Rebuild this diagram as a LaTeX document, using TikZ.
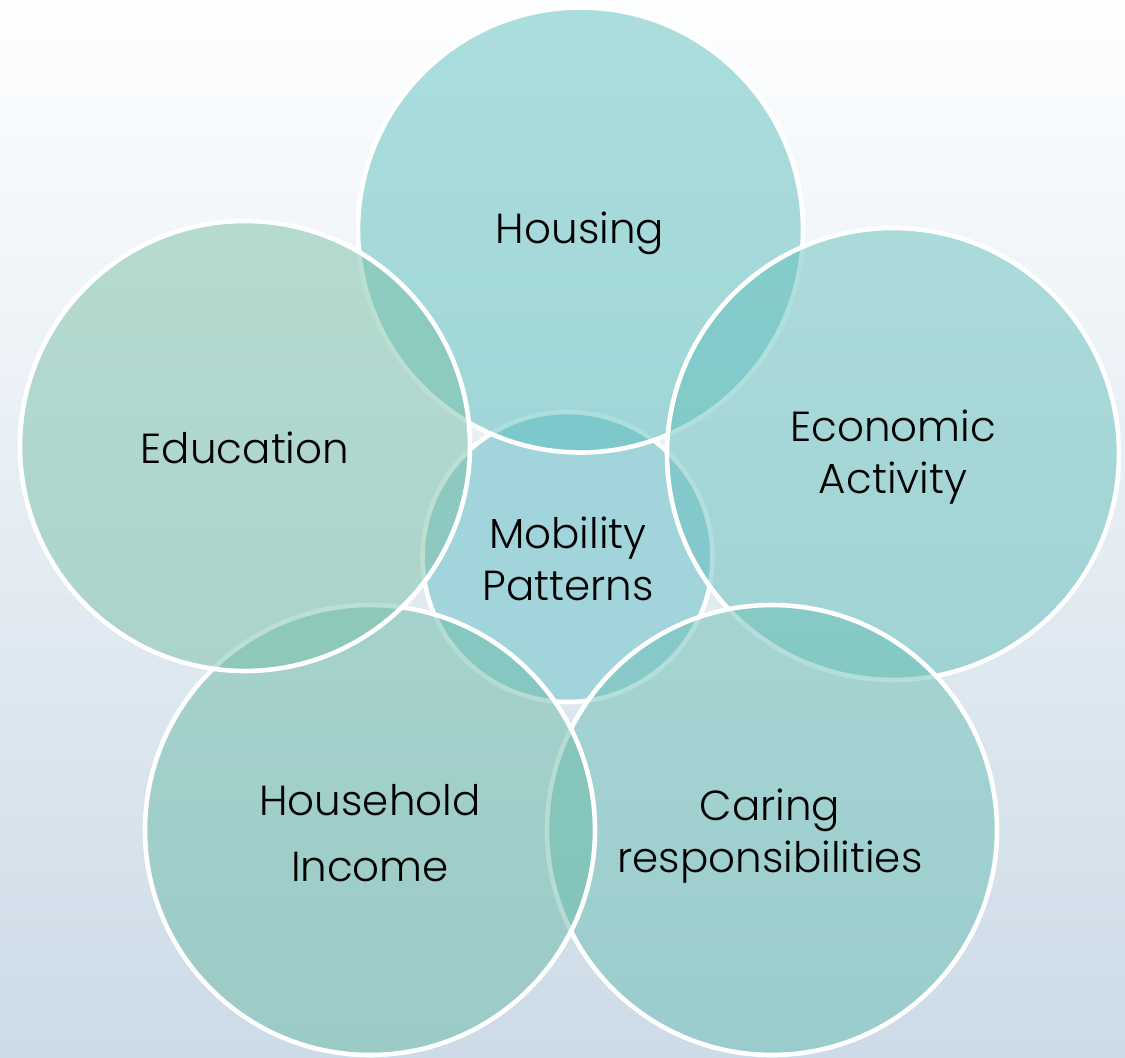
\documentclass[tikz,border=0pt]{standalone}
\usepackage{fontspec}
\setmainfont{Poppins Light}
\definecolor{bgtop}{HTML}{FDFEFF}
\definecolor{bgbot}{HTML}{CCDBE7}
\definecolor{cmid}{HTML}{A2D4DC}
\definecolor{chou}{HTML}{5ABEBC}
\definecolor{ceco}{HTML}{65C0BC}
\definecolor{ccar}{HTML}{6BBFB5}
\definecolor{chh}{HTML}{6BBBA9}
\definecolor{cedu}{HTML}{79C0A8}
\tikzset{
  ring/.style={draw=white, line width=4.6pt, fill opacity=0.5},
  lbl/.style={font=\fontsize{42}{52}\selectfont, align=center, text=black, inner sep=0pt}
}
\begin{document}
\begin{tikzpicture}[x=1pt,y=-1pt]
\useasboundingbox (0,0) rectangle (1125,1058);
\shade[top color=bgtop, bottom color=bgbot] (0,0) rectangle (1125,1058);
% centre circle
\filldraw[draw=white, line width=4.6pt, fill=cmid] (567.5,557) circle[radius=145];
% outer circles in drawing order
\filldraw[ring, fill=chou] (580.5,230) circle[radius=222.5];
\filldraw[ring, fill=ceco] (893,454) circle[radius=226];
\filldraw[ring, fill=ccar] (772,830) circle[radius=225];
\filldraw[ring, fill=chh] (370,830) circle[radius=225];
\filldraw[ring, fill=cedu] (245,446) circle[radius=225];
% labels
\node[lbl] (mob) at (568,559) {Mobility\\Patterns};
\node[lbl] (hou) at (580,233) {Housing};
\node[lbl] (eco) at (893,457) {Economic\\Activity};
\node[lbl] (car) at (770,836) {Caring\\responsibilities};
\node[lbl] (hh) at (370,833) {Household\\[14pt]Income};
\node[lbl] (edu) at (245,448) {Education};
\end{tikzpicture}
\end{document}
